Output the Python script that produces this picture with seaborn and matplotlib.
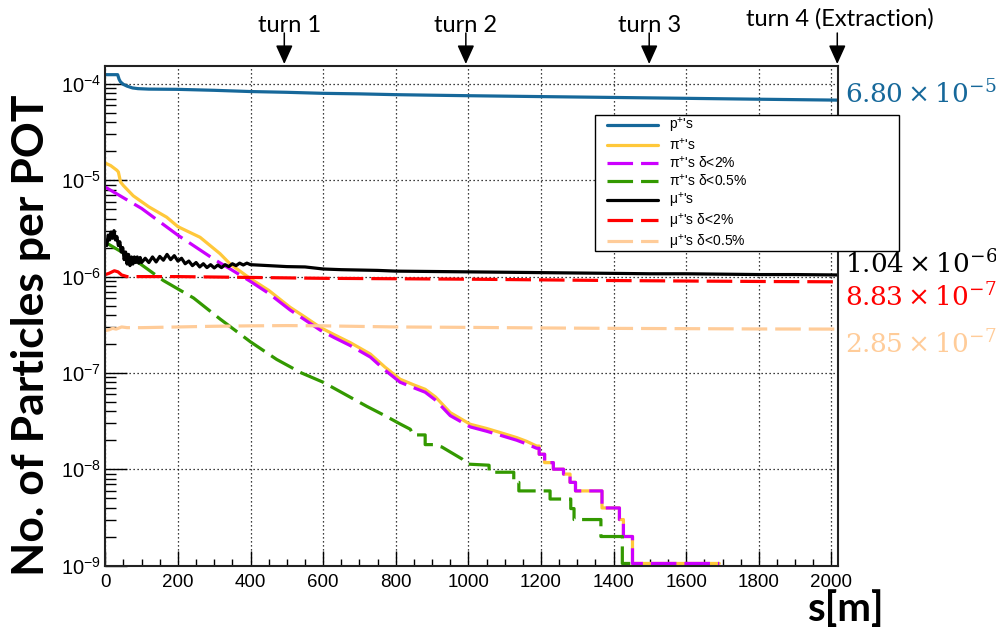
import numpy as np
import pandas as pd
import matplotlib
matplotlib.use("Agg")
import matplotlib.pyplot as plt
import seaborn as sns
from matplotlib.patches import Rectangle
from matplotlib.ticker import LogLocator, MultipleLocator, LogFormatterSciNotation, NullFormatter

sns.set_style("ticks")
plt.rcParams["font.family"] = ["Liberation Sans", "DejaVu Sans"]
plt.rcParams["mathtext.fontset"] = "dejavuserif"
for k in ["text.color", "axes.labelcolor", "xtick.color", "ytick.color", "axes.edgecolor"]:
    plt.rcParams[k] = "black"

# ---------------- data ----------------
p_s = [0, 34, 38, 42, 50, 60, 75, 90, 120, 200, 300, 400, 500, 600, 700, 800, 900, 1000,
       1200, 1400, 1600, 1800, 2018]
p_y = [1.25e-4, 1.25e-4, 1.12e-4, 1.05e-4, 0.99e-4, 0.95e-4, 0.91e-4, 0.895e-4, 0.885e-4,
       0.88e-4, 0.86e-4, 0.835e-4, 0.82e-4, 0.80e-4, 0.79e-4, 0.775e-4, 0.765e-4, 0.756e-4,
       0.74e-4, 0.725e-4, 0.71e-4, 0.695e-4, 0.68e-4]

pi_s = [0, 15, 32, 36, 42, 50, 77, 120, 169, 200, 261, 316, 344, 400, 450, 509, 550, 592, 630,
        675, 730, 770, 812, 850, 881, 910, 950, 1005, 1050, 1088, 1133, 1160, 1188, 1195,
        1195, 1210, 1210, 1234, 1234, 1262, 1262, 1280, 1280, 1295, 1295, 1368, 1368, 1416,
        1416, 1427, 1427, 1452, 1452, 1691]
pi_y = [1.51e-5, 1.42e-5, 1.27e-5, 1.22e-5, 0.96e-5, 0.88e-5, 6.9e-6, 5.3e-6, 4.14e-6, 3.3e-6,
        2.56e-6, 1.73e-6, 1.35e-6, 9.5e-7, 7.2e-7, 4.8e-7, 3.8e-7, 2.97e-7, 2.5e-7, 2.06e-7,
        1.57e-7, 1.15e-7, 8.6e-8, 7.5e-8, 6.76e-8, 5.6e-8, 3.87e-8, 2.93e-8, 2.65e-8, 2.4e-8,
        2.13e-8, 1.95e-8, 1.74e-8, 1.74e-8,
        1.43e-8, 1.43e-8, 1.17e-8, 1.17e-8, 1.0e-8, 1.0e-8, 8.9e-9, 8.9e-9, 7.3e-9, 7.3e-9,
        5.95e-9, 5.95e-9, 3.96e-9, 3.96e-9, 3.0e-9, 3.0e-9, 2.0e-9, 2.0e-9, 1.05e-9, 1.05e-9]

pi2_s = [0, 100, 200, 300, 344, 400, 450, 509, 550, 592, 630, 675, 730, 770, 812, 850, 881,
         910, 950, 1005, 1050, 1088, 1133, 1160, 1188, 1195,
         1195, 1210, 1210, 1234, 1234, 1262, 1262, 1280, 1280, 1295, 1295, 1368, 1368, 1416,
         1416, 1427, 1427, 1452, 1452, 1691]
pi2_y = [8.5e-6, 5.1e-6, 2.69e-6, 1.51e-6, 1.2e-6, 8.9e-7, 6.7e-7, 4.5e-7, 3.55e-7, 2.78e-7,
         2.33e-7, 1.92e-7, 1.46e-7, 1.07e-7, 8.0e-8, 7.0e-8, 6.3e-8, 5.2e-8, 3.6e-8, 2.75e-8,
         2.48e-8, 2.25e-8, 2.0e-8, 1.83e-8, 1.65e-8, 1.65e-8,
         1.43e-8, 1.43e-8, 1.17e-8, 1.17e-8, 1.0e-8, 1.0e-8, 8.9e-9, 8.9e-9, 7.3e-9, 7.3e-9,
         5.95e-9, 5.95e-9, 3.96e-9, 3.96e-9, 3.0e-9, 3.0e-9, 2.0e-9, 2.0e-9, 1.05e-9, 1.05e-9]

pi05_s = [0, 77, 160, 243, 316, 400, 472, 540, 600, 660, 720, 770, 812, 840, 848, 881, 881,
          904, 927, 982, 997, 1057, 1057, 1125, 1125, 1139, 1139, 1225, 1225, 1282, 1282,
          1291, 1291, 1365, 1365, 1424, 1424, 1446]
pi05_y = [2.27e-6, 1.53e-6, 9.1e-7, 6.0e-7, 3.63e-7, 2.1e-7, 1.38e-7, 1.0e-7, 8.0e-8, 6.0e-8,
          4.5e-8, 3.6e-8, 2.95e-8, 2.6e-8, 2.27e-8, 2.27e-8, 1.8e-8, 1.8e-8, 1.7e-8, 1.28e-8,
          1.13e-8, 1.1e-8, 9.3e-9, 9.3e-9, 7.3e-9, 7.3e-9, 5.95e-9, 5.95e-9, 4.9e-9, 4.9e-9,
          3.9e-9, 3.9e-9, 3.0e-9, 3.0e-9, 2.0e-9, 2.0e-9, 1.05e-9, 1.05e-9]

mu_s = [0, 4, 8, 12, 16, 20, 24, 28, 32, 36, 40, 44, 48, 52, 56, 60, 64, 68, 72, 76, 80, 84,
        88, 92, 96, 100, 110, 120, 130, 140, 150, 160, 170, 180, 190, 200, 210, 220, 230, 240,
        250, 260, 270, 280, 290, 300, 310, 320, 330, 340, 350, 360, 370, 380, 390, 400,
        450, 500, 550, 600, 650, 700, 750, 800, 900, 1000, 1100, 1200, 1300, 1400, 1500,
        1600, 1700, 1800, 1900, 2018]
mu_y = [2.3e-6, 2.1e-6, 2.7e-6, 2.4e-6, 2.9e-6, 2.5e-6, 3.0e-6, 2.4e-6, 2.6e-6, 2.1e-6,
        2.3e-6, 1.8e-6, 2.0e-6, 1.5e-6, 1.8e-6, 1.35e-6, 1.7e-6, 1.3e-6, 1.6e-6, 1.35e-6,
        1.6e-6, 1.4e-6, 1.6e-6, 1.38e-6, 1.58e-6, 1.4e-6, 1.55e-6, 1.4e-6, 1.6e-6, 1.42e-6,
        1.62e-6, 1.48e-6, 1.7e-6, 1.5e-6, 1.65e-6, 1.45e-6, 1.55e-6, 1.36e-6, 1.45e-6, 1.3e-6,
        1.4e-6, 1.26e-6, 1.36e-6, 1.24e-6, 1.33e-6, 1.23e-6, 1.32e-6, 1.24e-6, 1.33e-6, 1.27e-6,
        1.36e-6, 1.3e-6, 1.38e-6, 1.32e-6, 1.38e-6, 1.33e-6,
        1.3e-6, 1.27e-6, 1.26e-6, 1.2e-6, 1.18e-6, 1.17e-6, 1.16e-6, 1.14e-6, 1.13e-6, 1.12e-6,
        1.11e-6, 1.1e-6, 1.09e-6, 1.08e-6, 1.07e-6, 1.07e-6, 1.06e-6, 1.05e-6, 1.05e-6, 1.04e-6]

mu2_s = [0, 10, 25, 35, 45, 60, 100, 200, 400, 600, 800, 1000, 1200, 1400, 1600, 1800, 2018]
mu2_y = [1.05e-6, 1.08e-6, 1.15e-6, 1.12e-6, 1.04e-6, 1.0e-6, 1.0e-6, 1.0e-6, 0.98e-6, 0.96e-6,
         0.95e-6, 0.94e-6, 0.925e-6, 0.91e-6, 0.90e-6, 0.89e-6, 0.883e-6]

mu05_s = [0, 10, 20, 30, 45, 60, 100, 200, 300, 400, 500, 600, 800, 1000, 1200, 1400, 1600,
          1800, 2018]
mu05_y = [2.75e-7, 2.8e-7, 2.9e-7, 2.85e-7, 3.0e-7, 2.95e-7, 2.95e-7, 3.0e-7, 3.05e-7, 3.08e-7,
          3.1e-7, 3.08e-7, 3.0e-7, 2.97e-7, 2.93e-7, 2.9e-7, 2.88e-7, 2.86e-7, 2.85e-7]

series_labels = [r"p$^{\mathdefault{+}}$'s", r"π$^{\mathdefault{+}}$'s",
                 r"π$^{\mathdefault{+}}$'s δ<2%", r"π$^{\mathdefault{+}}$'s δ<0.5%",
                 r"μ$^{\mathdefault{+}}$'s", r"μ$^{\mathdefault{+}}$'s δ<2%",
                 r"μ$^{\mathdefault{+}}$'s δ<0.5%"]
series_colors = ["#16689a", "#ffc83a", "#cc00ff", "#339900", "#000000", "#ff0000", "#ffcc99"]

final_labels = [r"$6.80\times10^{-5}$", r"$1.04\times10^{-6}$", r"$8.83\times10^{-7}$",
                r"$2.85\times10^{-7}$"]
final_colors = ["#16689a", "#000000", "#ff0000", "#ffcc99"]

turn_s = [493, 993, 1498, 2016]
turn_labels = ["turn 1", "turn 2", "turn 3", "turn 4 (Extraction)"]

x_ticks = list(range(0, 2001, 200))

# ---------------- figure ----------------
W, H = 996, 630
fig = plt.figure(figsize=(W / 100, H / 100), dpi=100)
ax = fig.add_axes([105.3 / W, 1 - 565.5 / H, (838 - 105.3) / W, (565.5 - 66) / H])

series = [(p_s, p_y, "-"), (pi_s, pi_y, "-"), (pi2_s, pi2_y, (0, (8, 2.5))),
          (pi05_s, pi05_y, (0, (8, 2.5))), (mu_s, mu_y, "-"), (mu2_s, mu2_y, (0, (8, 2.5))),
          (mu05_s, mu05_y, (0, (8, 2.5)))]
for (sx, sy, ls), lab, col in zip(series, series_labels, series_colors):
    df = pd.DataFrame({"s": sx, "n": sy})
    sns.lineplot(data=df, x="s", y="n", sort=False, estimator=None, color=col,
                 linewidth=2.3, linestyle=ls, label=lab, ax=ax)

ax.set_yscale("log")
ax.set_xlim(0, 2018)
ax.set_ylim(1e-9, 1.538e-4)
ax.set_xlabel("")
ax.set_ylabel("")

ax.set_xticks(x_ticks)
ax.xaxis.set_minor_locator(MultipleLocator(50))
ax.yaxis.set_major_locator(LogLocator(base=10, numticks=20))
ax.yaxis.set_minor_locator(LogLocator(base=10, subs=np.arange(2, 10), numticks=20))
ax.yaxis.set_major_formatter(LogFormatterSciNotation())
ax.yaxis.set_minor_formatter(NullFormatter())

ax.grid(True, which="major", color="black", linestyle=(0, (1, 2.2)), linewidth=0.9)
ax.tick_params(axis="x", which="major", direction="in", length=10.8, width=1.0,
               labelsize=13.5, pad=6, color="black", labelcolor="black")
ax.tick_params(axis="x", which="minor", direction="in", length=5.4, width=1.0, color="black")
ax.tick_params(axis="y", which="major", direction="in", length=15.8, width=1.0,
               labelsize=14.5, pad=3, color="black", labelcolor="black")
ax.tick_params(axis="y", which="minor", direction="in", length=7.9, width=1.0, color="black")
for sp in ax.spines.values():
    sp.set_linewidth(1.5)
    sp.set_color("#222222")

# legend box (white, framed) and legend
rect = Rectangle((595 / W, 1 - 251 / H), 304 / W, 136 / H, transform=fig.transFigure,
                 facecolor="white", edgecolor="black", linewidth=1.0, zorder=4.5,
                 clip_on=False)
ax.add_patch(rect)
handles, labels = ax.get_legend_handles_labels()
leg = ax.legend(handles, labels, loc="upper left", bbox_to_anchor=(606.7 / W, 1 - 116 / H),
                bbox_transform=fig.transFigure, frameon=False, fontsize=10,
                handlelength=3.7, handletextpad=0.8, labelspacing=0.14, borderpad=0,
                borderaxespad=0, labelcolor="black")
leg.set_zorder(5)

# final-value labels on the right
final_base = [103, 273, 306, 353]
for lab, col, yb in zip(final_labels, final_colors, final_base):
    fig.text(845 / W, 1 - yb / H, lab, color=col, fontsize=19, ha="left", va="baseline")

# turn markers
text_base = [32, 32, 32, 25.5]
text_dx = [4, 0, 0, 2]
for ts, tl, tb, dx in zip(turn_s, turn_labels, text_base, text_dx):
    ax.annotate("", xy=(ts, 1.004), xycoords=("data", "axes fraction"),
                xytext=(ts, (565.5 - 33) / 499.5), textcoords=("data", "axes fraction"),
                arrowprops=dict(arrowstyle="-|>,head_length=1.15,head_width=0.52",
                                mutation_scale=10, color="black", lw=1.1,
                                shrinkA=0, shrinkB=0),
                annotation_clip=False)
    ax.annotate(tl, xy=(ts, (565.5 - tb) / 499.5), xycoords=("data", "axes fraction"),
                xytext=(dx, 0), textcoords="offset points", ha="center", va="baseline",
                fontsize=17, family=["Lato", "DejaVu Sans"], color="black",
                annotation_clip=False)

# axis titles
fig.text(31 / W, 1 - 335 / H, "No. of Particles per POT", rotation=90, ha="center",
         va="center", fontsize=32, fontweight="bold", family=["Lato", "DejaVu Sans"],
         color="black")
fig.text(885 / W, 1 - 621 / H, "s[m]", ha="right", va="baseline", fontsize=29,
         fontweight="bold", family=["Lato", "DejaVu Sans"], color="black")

fig.savefig("out.png", dpi=100)
